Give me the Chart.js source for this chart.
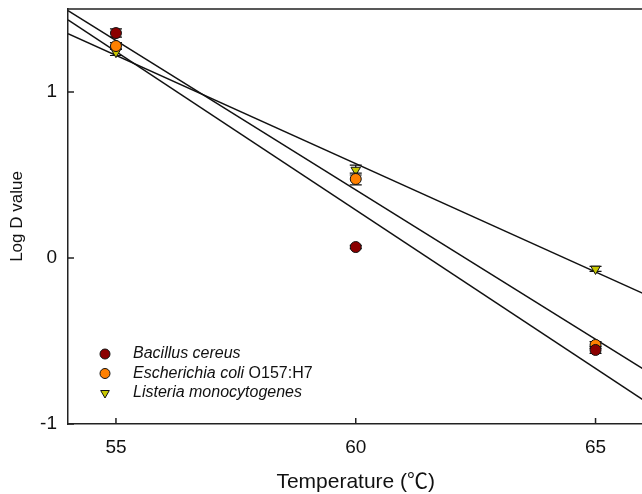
<!DOCTYPE html>
<html>
<head>
<meta charset="utf-8">
<script src="https://cdn.jsdelivr.net/npm/chart.js@4"></script>
<style>
  html, body { margin: 0; padding: 0; background: #fff; overflow: hidden; }
  #wrap { width: 642px; height: 494px; overflow: hidden; }
</style>
</head>
<body>
<div id="wrap"><canvas id="chart" width="650" height="494"></canvas></div>
<script>
const temps = [55, 60, 65];
const bacillus = [1.355, 0.066, -0.554];
const ecoli = [1.277, 0.476, -0.524];
const listeria = [1.24, 0.53, -0.066];

const bacillusErr = [0.025, 0.01, 0.02];
const ecoliErr = [0.02, 0.035, 0.02];
const listeriaErr = [0.02, 0.03, 0.015];

const fitX = [54, 66];
const bacillusFit = [1.434, -0.856];
const ecoliFit = [1.49, -0.67];
const listeriaFit = [1.352, -0.215];

const xTicks = [55, 60, 65];
const yTicks = [-1, 0, 1];

const FONT = "'Liberation Sans', Arial, 'Noto Sans CJK SC', sans-serif";

const pts = (xs, ys) => xs.map((x, i) => ({ x: x, y: ys[i] }));

const series = [
  { name: "Bacillus cereus", extra: "", ys: bacillus, err: bacillusErr, color: "#8b0000", style: "circle", rot: 0 },
  { name: "Escherichia coli", extra: " O157:H7", ys: ecoli, err: ecoliErr, color: "#ff8000", style: "circle", rot: 0 },
  { name: "Listeria monocytogenes", extra: "", ys: listeria, err: listeriaErr, color: "#c8c800", style: "triangle", rot: 180 },
];

const fitLine = (ys) => ({
  type: "line",
  data: pts(fitX, ys),
  borderColor: "#111",
  borderWidth: 1.5,
  pointRadius: 0,
  fill: false,
  order: 10,
});

const errorBars = {
  id: "errorBars",
  beforeDatasetDraw(chart, args) {
    const ds = chart.data.datasets[args.index];
    if (!ds.err) return;
    const { ctx, scales } = chart;
    ctx.save();
    ctx.strokeStyle = "#111";
    ctx.lineWidth = 1.2;
    ds.data.forEach((p, i) => {
      const x = scales.x.getPixelForValue(p.x);
      const y1 = scales.y.getPixelForValue(p.y + ds.err[i]);
      const y2 = scales.y.getPixelForValue(p.y - ds.err[i]);
      ctx.beginPath();
      ctx.moveTo(x, y1); ctx.lineTo(x, y2);
      ctx.moveTo(x - 6, y1); ctx.lineTo(x + 6, y1);
      ctx.moveTo(x - 6, y2); ctx.lineTo(x + 6, y2);
      ctx.stroke();
    });
    ctx.restore();
  },
};

const frame = {
  id: "frame",
  afterDraw(chart) {
    const { ctx, chartArea: a, scales } = chart;
    ctx.save();
    ctx.strokeStyle = "#222";
    ctx.lineWidth = 1.5;
    ctx.beginPath();
    ctx.moveTo(a.left, a.top); ctx.lineTo(a.right, a.top);
    ctx.moveTo(a.right, a.top); ctx.lineTo(a.right, a.bottom);
    // inward ticks
    xTicks.forEach((v) => {
      const x = scales.x.getPixelForValue(v);
      ctx.moveTo(x, a.bottom); ctx.lineTo(x, a.bottom - 6);
    });
    yTicks.forEach((v) => {
      const y = scales.y.getPixelForValue(v);
      ctx.moveTo(a.left, y); ctx.lineTo(a.left + 6, y);
    });
    ctx.stroke();
    ctx.restore();
  },
};

const legendBox = {
  id: "legendBox",
  afterDraw(chart) {
    const { ctx } = chart;
    ctx.save();
    ctx.textBaseline = "middle";
    series.forEach((s, i) => {
      const y = 354 + i * 19.5;
      ctx.fillStyle = s.color;
      ctx.strokeStyle = "#111";
      ctx.lineWidth = 1;
      Chart.helpers.drawPoint(ctx, { pointStyle: s.style, radius: 5, rotation: s.rot, borderWidth: 1 }, 105, y);
      ctx.fillStyle = "#111";
      ctx.font = "italic 16px " + FONT;
      ctx.fillText(s.name, 133, y);
      if (s.extra) {
        const w = ctx.measureText(s.name).width;
        ctx.font = "16px " + FONT;
        ctx.fillText(s.extra, 133 + w, y);
      }
    });
    ctx.restore();
  },
};

new Chart(document.getElementById("chart"), {
  type: "scatter",
  data: {
    datasets: [
      ...series.map((s) => ({
        label: s.name + s.extra,
        data: pts(temps, s.ys),
        err: s.err,
        backgroundColor: s.color,
        borderColor: "#111",
        borderWidth: 1,
        pointStyle: s.style,
        pointRotation: s.rot,
        pointRadius: 5.5,
        order: 1,
      })),
      fitLine(bacillusFit),
      fitLine(ecoliFit),
      fitLine(listeriaFit),
    ],
  },
  options: {
    responsive: false,
    animation: false,
    layout: { padding: { top: 9, right: 6, left: 0, bottom: 0 } },
    plugins: {
      legend: { display: false },
      tooltip: { enabled: false },
    },
    scales: {
      x: {
        type: "linear",
        min: 54,
        max: 66,
        afterBuildTicks: (axis) => { axis.ticks = xTicks.map((v) => ({ value: v })); },
        afterFit: (axis) => { axis.height = 70; axis.paddingLeft = 0; axis.paddingRight = 0; },
        grid: { display: false, drawTicks: false },
        border: { display: true, color: "#222", width: 1.5 },
        ticks: { color: "#111", padding: 12, font: { family: FONT, size: 19 } },
        title: {
          display: true,
          text: "Temperature (℃)",
          color: "#111",
          font: { family: FONT, size: 21 },
          padding: { top: 0, bottom: -1 },
        },
      },
      y: {
        min: -1,
        max: 1.5,
        afterBuildTicks: (axis) => { axis.ticks = yTicks.map((v) => ({ value: v })); },
        afterFit: (axis) => { axis.width = 68; axis.paddingTop = 0; axis.paddingBottom = 0; },
        grid: { display: false, drawTicks: false },
        border: { display: true, color: "#222", width: 1.5 },
        ticks: { color: "#111", padding: 11, font: { family: FONT, size: 19 } },
        title: {
          display: true,
          text: "Log D value",
          color: "#111",
          font: { family: FONT, size: 17 },
          padding: { top: 7, bottom: 0 },
        },
      },
    },
  },
  plugins: [errorBars, frame, legendBox],
});
</script>
</body>
</html>
